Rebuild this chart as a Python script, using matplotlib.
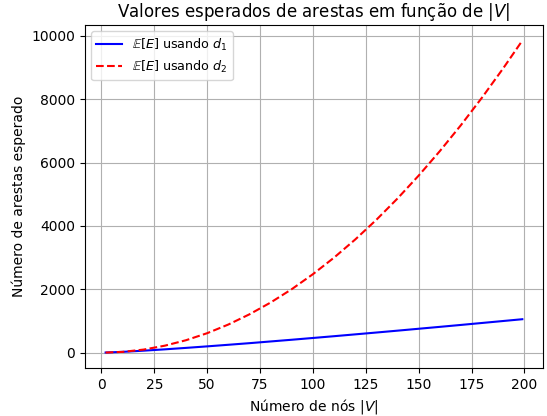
import matplotlib
matplotlib.use("Agg")
import matplotlib.pyplot as plt

# valores
n_nos = [2, 10, 20, 30, 40, 50, 60, 70, 80, 90, 100, 110, 120, 130, 140,
         150, 160, 170, 180, 190, 199]
arestas_d1 = [1.4, 23, 60, 102, 148, 196, 246, 297, 351, 405, 461, 517, 575,
              633, 692, 752, 812, 873, 935, 997, 1053]
arestas_d2 = [0.5, 22, 95, 218, 390, 612, 885, 1208, 1580, 2002, 2475, 2998,
              3570, 4192, 4865, 5588, 6360, 7182, 8055, 8978, 9850]

fig = plt.figure(figsize=(5.47, 4.16), dpi=100)
ax = fig.add_axes([0.155, 0.115, 0.838, 0.825])
ax.plot(n_nos, arestas_d1, color='blue', label=r'$\mathbb{E}[E]$ usando $d_1$')
ax.plot(n_nos, arestas_d2, color='red', linestyle='--', label=r'$\mathbb{E}[E]$ usando $d_2$')
ax.set_title(r'Valores esperados de arestas em função de $|V|$')
ax.set_xlabel(r'Número de nós $|V|$')
ax.set_ylabel('Número de arestas esperado')
ax.grid(True)
ax.legend(loc='upper left', fontsize=9.2)
fig.savefig('out.png')
